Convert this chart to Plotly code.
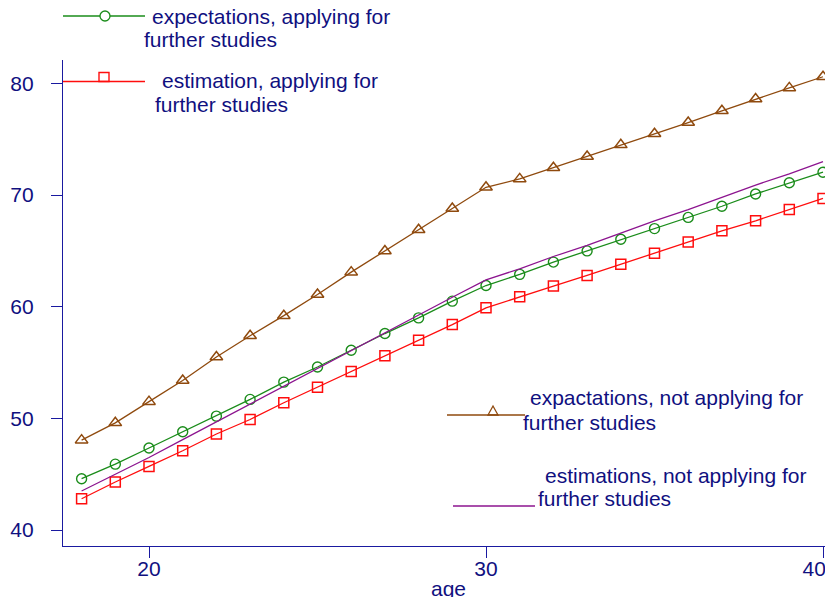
import plotly.graph_objects as go

ages = list(range(18, 41))
exp_applying = [44.6, 45.9, 47.35, 48.8, 50.2, 51.7, 53.25, 54.6, 56.1, 57.6, 59.0, 60.5,
                61.9, 62.9, 64.0, 65.0, 66.05, 67.0, 68.0, 69.0, 70.1, 71.1, 72.05]
est_applying = [42.8, 44.3, 45.7, 47.1, 48.6, 49.9, 51.4, 52.8, 54.2, 55.6, 57.0, 58.4,
                59.9, 60.9, 61.85, 62.8, 63.8, 64.8, 65.8, 66.8, 67.7, 68.7, 69.7]
exp_not_applying = [48.05, 49.6, 51.5, 53.4, 55.5, 57.4, 59.2, 61.1, 63.1, 65.0, 66.9, 68.8,
                    70.7, 71.45, 72.45, 73.45, 74.5, 75.5, 76.5, 77.55, 78.6, 79.6, 80.6]
est_not_applying = [43.5, 45.0, 46.5, 48.1, 49.7, 51.3, 52.9, 54.5, 56.1, 57.7, 59.3, 60.85,
                    62.4, 63.4, 64.5, 65.5, 66.6, 67.7, 68.7, 69.8, 70.9, 71.9, 73.0]

xticks = [20, 30, 40]
# the last label sits left of its tick in the original, so it stays inside the page
xticktext = ["20", "30", "40\u00a0\u00a0\u00a0"]
yticks = [40, 50, 60, 70, 80]

GREEN = "#1a8c1a"
RED = "#ff0d0d"
BROWN = "#8f4a0e"
PURPLE = "#8c148f"
NAVY = "#1a1aa0"
TEXT = "#10107f"
FONT = "Liberation Sans, Arial, sans-serif"

# The page body has an 8px margin on every side; the figure is sized so that the
# page never needs scrollbars (which would cover its right and bottom edges).
OFF = 8
W, H = 833 - 2 * OFF, 605 - 2 * OFF
L, R, T = 63 - OFF, 0, 60 - OFF
B = H - (546 - OFF)
PW, PH = W - L - R, H - T - B

# age 20 at page x 149, 33.7 px per year; plot spans page x 63..825
X0 = 20 - (149 - 63) / 33.7
X1 = 20 + (825 - 149) / 33.7


def px(x):
    return (x - OFF - L) / PW


def py(y):
    return (H - B - (y - OFF)) / PH


fig = go.Figure()
fig.add_trace(go.Scatter(x=ages, y=exp_not_applying, mode="lines+markers",
                         line=dict(color=BROWN, width=1.3), cliponaxis=False,
                         marker=dict(symbol="triangle-up-open", size=11, color=BROWN, line=dict(width=1.5))))
fig.add_trace(go.Scatter(x=ages, y=exp_applying, mode="lines+markers",
                         line=dict(color=GREEN, width=1.3), cliponaxis=False,
                         marker=dict(symbol="circle-open", size=10, color=GREEN, line=dict(width=1.4))))
fig.add_trace(go.Scatter(x=ages, y=est_applying, mode="lines+markers",
                         line=dict(color=RED, width=1.3), cliponaxis=False,
                         marker=dict(symbol="square-open", size=10, color=RED, line=dict(width=1.5))))
fig.add_trace(go.Scatter(x=ages, y=est_not_applying, mode="lines", cliponaxis=False,
                         line=dict(color=PURPLE, width=1.3)))

shapes = []
# legend sample: green
shapes.append(dict(type="line", xref="paper", yref="paper", x0=px(63), x1=px(145), y0=py(16), y1=py(16),
                   line=dict(color=GREEN, width=1.3)))
shapes.append(dict(type="circle", xref="paper", yref="paper", x0=px(100), x1=px(110), y0=py(11), y1=py(21),
                   line=dict(color=GREEN, width=1.3), fillcolor="white"))
# red
shapes.append(dict(type="line", xref="paper", yref="paper", x0=px(63), x1=px(145), y0=py(81.5), y1=py(81.5),
                   line=dict(color=RED, width=1.3)))
shapes.append(dict(type="rect", xref="paper", yref="paper", x0=px(99), x1=px(109), y0=py(72.5), y1=py(81.5),
                   line=dict(color=RED, width=1.4)))
# brown
shapes.append(dict(type="line", xref="paper", yref="paper", x0=px(447), x1=px(525), y0=py(415), y1=py(415),
                   line=dict(color=BROWN, width=1.3)))
tri = "M {},{} L {},{} L {},{} Z".format(px(488), py(415), px(498), py(415), px(493), py(406))
shapes.append(dict(type="path", xref="paper", yref="paper", path=tri, line=dict(color=BROWN, width=1.3)))
# purple
shapes.append(dict(type="line", xref="paper", yref="paper", x0=px(453), x1=px(535), y0=py(506), y1=py(506),
                   line=dict(color=PURPLE, width=1.3)))

annotations = []
labels = [
    ("expectations, applying for", 150, 17),
    ("further studies", 142, 40),
    ("estimation, applying for", 160, 80),
    ("further studies", 153, 104),
    ("expactations, not applying for", 528, 397),
    ("further studies", 521, 422),
    ("estimations, not applying for", 543, 475),
    ("further studies", 536, 498),
]
for text, x, y in labels:
    annotations.append(dict(text=text, x=px(x), y=py(y), xref="paper", yref="paper",
                            xanchor="left", yanchor="middle", showarrow=False,
                            font=dict(family=FONT, size=21, color=TEXT)))
# x axis title
annotations.append(dict(text="age", x=px(448), y=py(588), xref="paper", yref="paper",
                        xanchor="center", yanchor="middle", showarrow=False,
                        font=dict(family=FONT, size=21, color=TEXT)))

fig.update_layout(
    width=W, height=H,
    margin=dict(l=L, r=R, t=T, b=B, autoexpand=False),
    paper_bgcolor="white", plot_bgcolor="white",
    showlegend=False,
    shapes=shapes, annotations=annotations,
    font=dict(family=FONT, size=21, color=TEXT),
)
fig.update_xaxes(range=[X0, X1], tickvals=xticks, ticktext=xticktext,
                 showgrid=False, zeroline=False,
                 showline=True, linecolor=NAVY, linewidth=1.3, automargin=False,
                 ticks="outside", ticklen=11, tickcolor=NAVY, tickwidth=1.3,
                 tickfont=dict(size=21, color=TEXT), ticklabelstandoff=-7,
                 ticklabeloverflow="allow")
fig.update_yaxes(range=[38.57, 82.1], tickvals=yticks, showgrid=False, zeroline=False,
                 showline=True, linecolor=NAVY, linewidth=1.3, automargin=False,
                 ticks="outside", ticklen=11, tickcolor=NAVY, tickwidth=1.3,
                 tickfont=dict(size=21, color=TEXT), ticklabelstandoff=13,
                 ticklabeloverflow="allow")

fig.write_html("out.html")
